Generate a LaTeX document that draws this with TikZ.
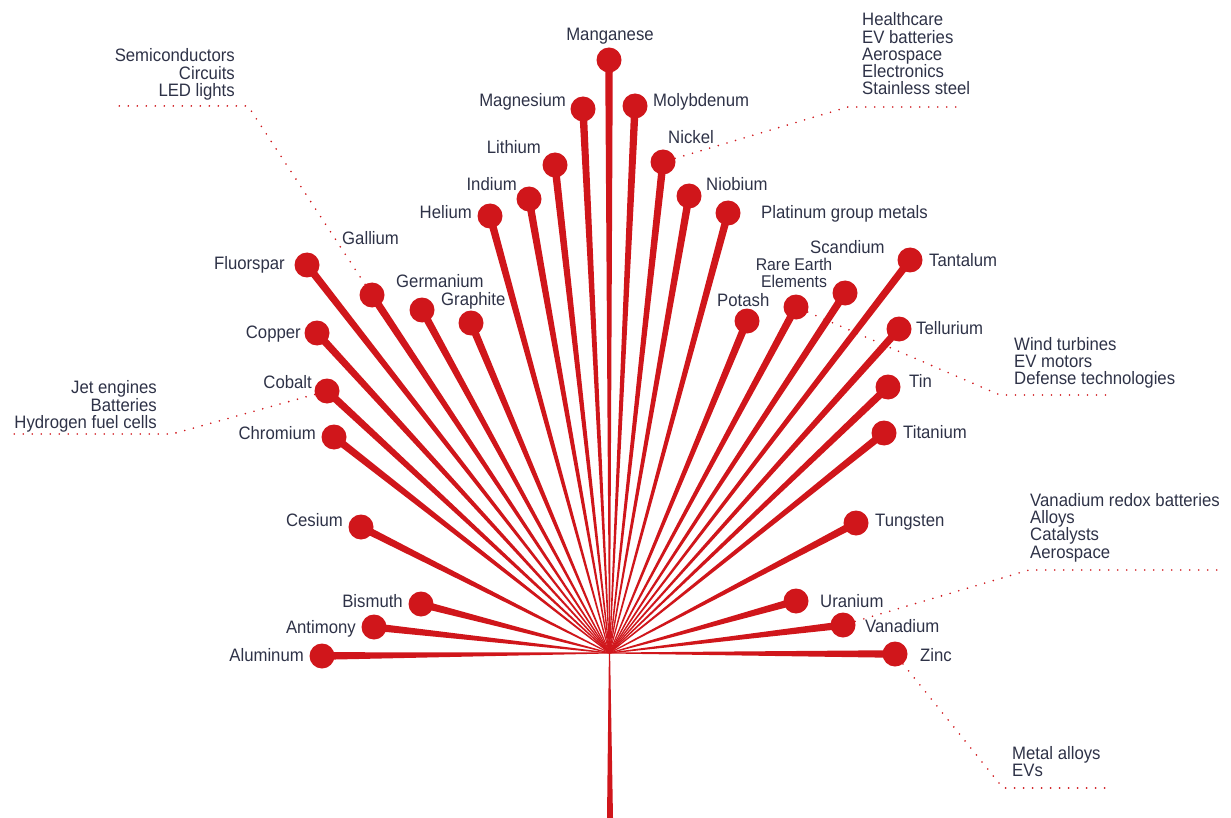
\documentclass[tikz,border=0pt]{standalone}
\usepackage{fontspec}
\setmainfont{Liberation Sans}[FakeStretch=0.93]
\usetikzlibrary{calc}
\definecolor{leafred}{HTML}{D0161B}
\definecolor{ink}{HTML}{2E3247}

\begin{document}
\begin{tikzpicture}[
    x=1pt, y=-1pt,
    ball/.style={circle, fill=leafred, inner sep=0pt, minimum size=25pt},
    spoke/.style={fill=leafred},
    elem/.style={text=ink, inner sep=0pt, font=\fontsize{18}{17.3}\selectfont, text height=12.9pt, text depth=0pt},
    usage/.style={text=ink, inner sep=0pt, font=\fontsize{18}{17.3}\selectfont},
    leader/.style={leafred, line width=1.8pt, dash pattern=on 0pt off 9pt, line cap=round}
]
    \useasboundingbox (0,0) rectangle (1231,818);

    \coordinate (c) at (609.5,653);
    \coordinate (base) at (610,818);

    \node[ball] (mn) at (609,60) {};
    \node[ball] (mg) at (583,109) {};
    \node[ball] (mo) at (635,106) {};
    \node[ball] (li) at (555,165) {};
    \node[ball] (ni) at (663,162) {};
    \node[ball] (ind) at (529,199) {};
    \node[ball] (nb) at (689,196) {};
    \node[ball] (he) at (490,216) {};
    \node[ball] (pgm) at (728,213) {};
    \node[ball] (fl) at (307,265) {};
    \node[ball] (ga) at (372,295) {};
    \node[ball] (ge) at (422,310) {};
    \node[ball] (gr) at (471,323) {};
    \node[ball] (pt) at (747,321) {};
    \node[ball] (ree) at (796,307) {};
    \node[ball] (sc) at (845,293) {};
    \node[ball] (ta) at (910,260) {};
    \node[ball] (cu) at (317,333) {};
    \node[ball] (te) at (899,329) {};
    \node[ball] (co) at (327,391) {};
    \node[ball] (sn) at (888,387) {};
    \node[ball] (cr) at (334,437) {};
    \node[ball] (ti) at (884,433) {};
    \node[ball] (cs) at (361,527) {};
    \node[ball] (w) at (856,523) {};
    \node[ball] (bi) at (421,604) {};
    \node[ball] (u) at (796,601) {};
    \node[ball] (sb) at (374,627) {};
    \node[ball] (v) at (843,625) {};
    \node[ball] (al) at (322,656) {};
    \node[ball] (zn) at (895,654) {};

    \foreach \b in {mn,mg,mo,li,ni,ind,nb,he,pgm,fl,ga,ge,gr,pt,ree,sc,ta,cu,te,co,sn,cr,ti,cs,w,bi,u,sb,v,al,zn}
        \fill[spoke] ($(c)!0.5pt!90:(\b)$) -- ($(\b)!3.8pt!-90:(c)$) -- ($(\b)!3.8pt!90:(c)$) -- ($(c)!0.5pt!-90:(\b)$) -- cycle;
    \fill[spoke] ($(c)+(-0.6,0)$) -- ($(c)+(0.6,0)$) -- ($(base)+(3,0)$) -- ($(base)+(-3,0)$) -- cycle;

    \node[elem] (mnL) at (610,34) {Manganese};
    \node[elem, anchor=east] (mgL) at (566,100) {Magnesium};
    \node[elem, anchor=west] (moL) at (653,100) {Molybdenum};
    \node[elem, anchor=east] (liL) at (541,147) {Lithium};
    \node[elem, anchor=west] (niL) at (668,137) {Nickel};
    \node[elem, anchor=east] (indL) at (517,184) {Indium};
    \node[elem, anchor=west] (nbL) at (706,184) {Niobium};
    \node[elem, anchor=east] (heL) at (472,212) {Helium};
    \node[elem, anchor=west] (pgmL) at (761,212) {Platinum group metals};
    \node[elem, anchor=west] (gaL) at (342,238) {Gallium};
    \node[elem, anchor=east] (flL) at (285,263) {Fluorspar};
    \node[elem, anchor=west] (geL) at (396,281) {Germanium};
    \node[elem, anchor=west] (grL) at (441,299) {Graphite};
    \node[elem, anchor=west] (scL) at (810,247) {Scandium};
    \node[usage, align=center, anchor=north, font=\fontsize{17}{17}\selectfont] (reeL) at (794,258) {Rare Earth\\Elements};
    \node[elem, anchor=west] (ptL) at (717,300) {Potash};
    \node[elem, anchor=west] (taL) at (929,260) {Tantalum};
    \node[elem, anchor=east] (cuL) at (301,332) {Copper};
    \node[elem, anchor=west] (teL) at (916,328) {Tellurium};
    \node[elem, anchor=east] (coL) at (312,382) {Cobalt};
    \node[elem, anchor=west] (snL) at (909,381) {Tin};
    \node[elem, anchor=east] (crL) at (316,433) {Chromium};
    \node[elem, anchor=west] (tiL) at (903,432) {Titanium};
    \node[elem, anchor=east] (csL) at (343,520) {Cesium};
    \node[elem, anchor=west] (wL) at (875,520) {Tungsten};
    \node[elem, anchor=east] (biL) at (403,601) {Bismuth};
    \node[elem, anchor=west] (uL) at (820,601) {Uranium};
    \node[elem, anchor=east] (sbL) at (356,627) {Antimony};
    \node[elem, anchor=west] (vL) at (865,626) {Vanadium};
    \node[elem, anchor=east] (alL) at (304,655) {Aluminum};
    \node[elem, anchor=west] (znL) at (920,655) {Zinc};

    \node[usage, align=right, anchor=north east] (gaU) at (235,48.5) {Semiconductors\\Circuits\\LED lights};
    \node[usage, align=right, anchor=north east] (coU) at (157,380.5) {Jet engines\\Batteries\\Hydrogen fuel cells};
    \node[usage, align=left, anchor=north west] (niU) at (862,12.5) {Healthcare\\EV batteries\\Aerospace\\Electronics\\Stainless steel};
    \node[usage, align=left, anchor=north west] (reeU) at (1014,337) {Wind turbines\\EV motors\\Defense technologies};
    \node[usage, align=left, anchor=north west] (vU) at (1030,493) {Vanadium redox batteries\\Alloys\\Catalysts\\Aerospace};
    \node[usage, align=left, anchor=north west] (znU) at (1012,746) {Metal alloys\\EVs};

    \coordinate (gaK) at (248,106);
    \coordinate (gaE) at (113,106);
    \coordinate (coK) at (172,434);
    \coordinate (coE) at (12,434);
    \coordinate (niK) at (848,107);
    \coordinate (niE) at (957,107);
    \coordinate (reeK) at (1000,395);
    \coordinate (reeE) at (1110,395);
    \coordinate (vK) at (1029,570);
    \coordinate (vE) at (1223,570);
    \coordinate (znK) at (1003,788);
    \coordinate (znE) at (1105,788);

    \draw[leader] (ga) -- (gaK) -- (gaE);
    \draw[leader] (co) -- (coK) -- (coE);
    \draw[leader] (ni) -- (niK) -- (niE);
    \draw[leader] (ree) -- (reeK) -- (reeE);
    \draw[leader] (v) -- (vK) -- (vE);
    \draw[leader] (zn) -- (znK) -- (znE);
\end{tikzpicture}
\end{document}
